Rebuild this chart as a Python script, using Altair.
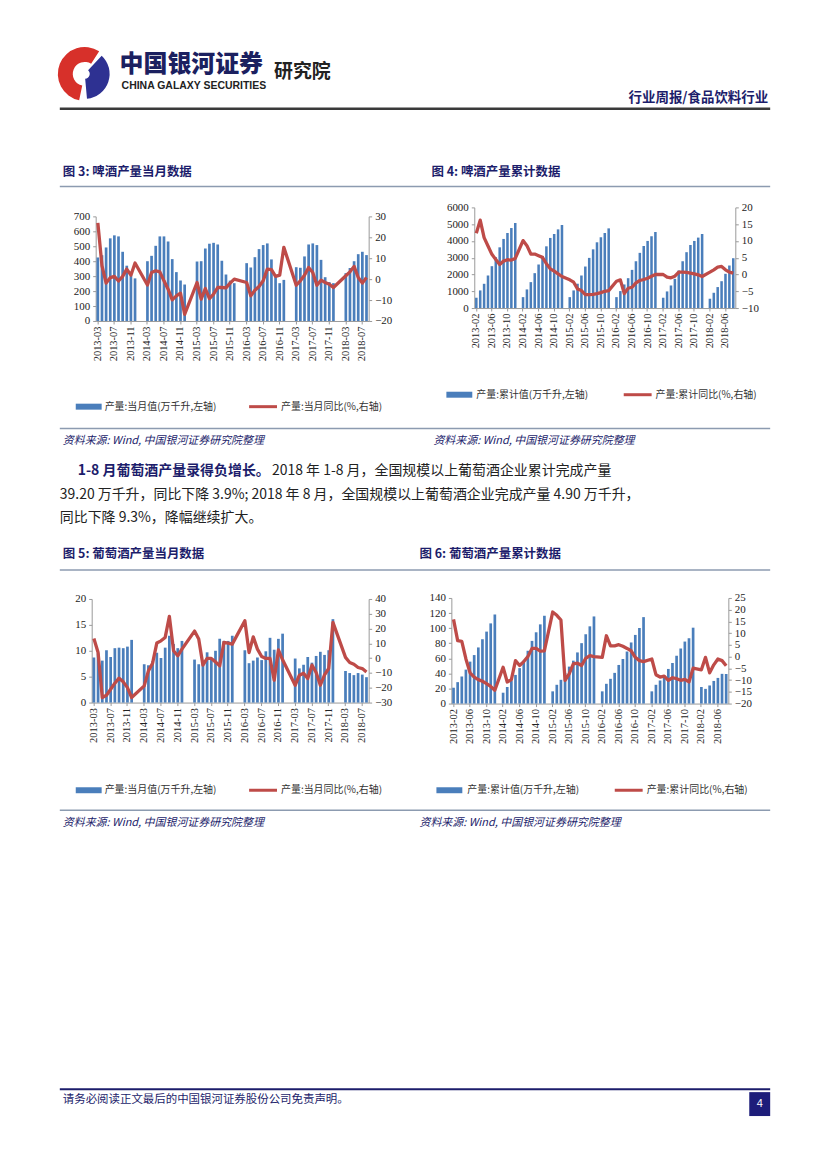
import altair as alt
import pandas as pd

# ---------------- categories ----------------
def month_range(y0, m0, y1, m1):
    out = []
    y, m = y0, m0
    while (y, m) <= (y1, m1):
        out.append(f"{y}-{m:02d}")
        m += 1
        if m > 12:
            m = 1
            y += 1
    return out

months_monthly = month_range(2013, 3, 2018, 8)   # 图3 / 图5
months_cum = month_range(2013, 2, 2018, 8)       # 图4 / 图6
N = None

# ---------------- 图3 啤酒产量当月 ----------------
beer_month_val = [425, 440, 492, 553, 573, 566, 463, 370, 305, 285,
                  N, N, 400, 436, 503, 566, 566, 532, 414, 327, 271, 244,
                  N, N, 398, 400, 485, 517, 523, 512, 403, 311, 270, 253,
                  N, N, 387, 358, 427, 481, 508, 519, 412, 300, 253, 275,
                  N, N, 360, 356, 432, 512, 519, 508, 409, 293, 260, 253,
                  N, N, 320, 355, 400, 447, 463, 441]
beer_month_yoy = [26.9, 6.4, -1.9, 0.7, 1.3, -0.9, 1.3, 4.8, 1.9, 7.7,
                  N, N, -2.8, 3.2, 4.0, 3.5, -0.8, -4.8, -9.9, -8.0, -6.7, -16.8,
                  N, N, -1.6, -9.6, -4.5, -9.3, -7.2, -4.0, -4.0, -4.2, -1.9, 0.0,
                  N, N, -1.6, -8.0, -5.3, -3.5, -0.8, 4.8, 4.5, 1.3, 1.9, 15.2,
                  N, N, -2.9, -0.8, 1.9, 5.6, 3.2, -2.9, -0.5, -1.6, -2.4, -4.0,
                  N, N, 1.6, 3.5, 6.1, 0.8, -1.9, 0.8]

# ---------------- 图4 啤酒产量累计 ----------------
beer_cum_val = [614, 1050, 1445, 1940, 2495, 3030, 3620, 4120, 4475, 4770, 5070,
                N, 650, 1110, 1545, 2080, 2590, 3100, 3680, 4180, 4415, 4690, 4950,
                N, 650, 1050, 1450, 1940, 2475, 2990, 3500, 3920, 4220, 4475, 4750,
                N, 650, 1010, 1405, 1780, 2275, 2790, 3290, 3700, 4000, 4280, 4535,
                N, 614, 990, 1345, 1740, 2240, 2790, 3330, 3760, 4000, 4200, 4415,
                N, 555, 910, 1250, 1600, 2040, 2535, 2970]
beer_cum_yoy = [12.3, 16.2, 11.0, 8.5, 6.0, 4.5, 3.0, 4.0, 4.4, 4.3, 4.8,
                N, 10.1, 8.6, 6.1, 6.1, 5.6, 5.1, 3.2, 1.7, 1.0, 0.2, -0.6,
                N, -1.6, -2.3, -4.3, -4.8, -6.0, -6.0, -5.9, -5.7, -5.4, -5.0, -4.8,
                N, -2.0, -1.6, -5.7, -4.1, -3.8, -2.5, -1.8, -1.5, -1.1, -0.5, 0.0,
                N, 0.0, -0.8, -1.0, -0.5, 0.7, 0.7, 0.6, 0.4, 0.2, -0.1, -0.6,
                N, 0.7, 1.4, 2.2, 2.4, 1.4, 0.7, 0.4]

# ---------------- 图5 葡萄酒产量当月 ----------------
wine_month_val = [8.7, 9.5, 8.1, 10.1, 8.8, 10.5, 10.6, 10.5, 10.8, 12.1,
                  N, N, 7.4, 7.2, 8.0, 9.6, 8.6, 10.6, 12.9, 11.3, 10.5, 11.9,
                  N, N, 8.3, 7.4, 8.0, 9.7, 8.5, 10.0, 12.3, 11.9, 11.9, 12.9,
                  N, N, 10.1, 7.6, 8.1, 8.7, 8.2, 9.9, 12.5, 10.2, 12.3, 13.3,
                  N, N, 8.5, 6.6, 7.3, 8.8, 7.7, 9.0, 9.8, 9.2, 10.1, 16.1,
                  N, N, 6.1, 5.7, 5.3, 5.7, 5.4, 4.9]
wine_month_yoy = [13.3, 3.8, -26.6, -25.1, -21.0, -16.9, -13.5, -16.0, -19.9, -26.6,
                  N, N, -18.7, -8.6, -3.4, 10.2, 11.7, 14.0, 28.2, 5.0, 1.6, 6.1,
                  N, N, 18.3, 12.9, -4.7, -0.2, -0.2, -2.5, -5.2, 10.6, 10.2, 9.5,
                  N, N, 25.3, 3.8, 14.4, 6.1, 1.1, -0.2, -0.2, -14.9, 5.6, -1.1,
                  N, N, -18.3, -11.5, -10.2, -13.8, -4.7, -9.7, -18.3, -11.3, -7.0, 24.2,
                  N, N, 0.5, -2.9, -4.1, -6.3, -7.0, -9.3]

# ---------------- 图6 葡萄酒产量累计 ----------------
wine_cum_val = [21.0, 28.4, 35.9, 45.0, 55.6, 64.3, 74.4, 85.3, 95.4, 106.3, 118.1,
                N, 14.4, 22.0, 30.0, 38.0, 47.0, 57.0, 70.0, 83.1, 94.5, 105.0, 116.4,
                N, 16.2, 24.9, 31.5, 40.7, 49.0, 56.9, 67.8, 80.1, 91.9, 102.4, 115.5,
                N, 16.2, 26.2, 32.8, 40.7, 51.2, 59.1, 69.0, 81.0, 91.0, 100.2, 114.6,
                N, 16.2, 24.9, 30.6, 37.0, 45.9, 53.8, 63.4, 73.0, 82.2, 86.6, 100.6,
                N, 22.0, 19.5, 24.0, 30.0, 34.0, 39.4, 39.2]
wine_cum_yoy = [15.9, 6.8, 6.5, -1.0, -6.9, -8.7, -9.8, -10.5, -11.5, -12.7, -14.3,
                N, -4.5, -10.8, -9.8, -1.7, -3.8, -2.1, 0.0, 3.5, 3.5, 2.3, 2.5,
                N, 19.0, 17.6, 15.6, -10.1, -7.3, -3.1, -2.8, -3.8, -0.7, 0.4, 0.0,
                N, -0.3, 8.9, 4.6, 4.6, 5.1, 4.4, 3.5, 2.5, -0.3, -1.7, -2.1,
                N, -1.0, -7.7, -8.7, -8.3, -10.1, -9.0, -9.4, -10.1, -9.7, -10.8, -4.9,
                N, -5.6, -0.3, -6.9, -3.5, -1.0, -1.7, -3.9]

# ---------------- texts ----------------
legend_month = ["产量:当月值(万千升,左轴)", "产量:当月同比(%,右轴)"]
legend_cum = ["产量:累计值(万千升,左轴)", "产量:累计同比(%,右轴)"]
source_text = "资料来源: Wind, 中国银河证券研究院整理"
fig_titles = ["图 3: 啤酒产量当月数据", "图 4: 啤酒产量累计数据",
              "图 5: 葡萄酒产量当月数据", "图 6: 葡萄酒产量累计数据"]
para_bold = "1-8 月葡萄酒产量录得负增长。"
para_l1 = "2018 年 1-8 月，全国规模以上葡萄酒企业累计完成产量"
para_l2 = "39.20 万千升，同比下降 3.9%; 2018 年 8 月，全国规模以上葡萄酒企业完成产量 4.90 万千升，"
para_l3 = "同比下降 9.3%，降幅继续扩大。"

# ---------------- styling ----------------
CJK = "Noto Sans CJK SC"
SERIF = "Liberation Serif"
BLUE = "#4A7EBB"
RED = "#BE4B48"
NAVY = "#1C1D6B"
LINEC = "#8C9BB0"
W = 811
ONE = alt.InlineData(values=[{"k": 0}])


def T(s, x, y, top, size=12, color="#222222", weight="normal", font=CJK,
      align="left", style="normal", baseline="middle"):
    return alt.Chart(ONE).mark_text(
        text=s, fontSize=size, color=color, fontWeight=weight, font=font,
        align=align, baseline=baseline, fontStyle=style
    ).encode(x=alt.value(x - 8), y=alt.value(y - top))


def R(x1, x2, y, top, color=LINEC, width=1.5):
    return alt.Chart(ONE).mark_rule(color=color, strokeWidth=width).encode(
        x=alt.value(x1 - 8), x2=alt.value(x2 - 8), y=alt.value(y - top))


def BOX(x1, x2, y1, y2, top, color):
    return alt.Chart(ONE).mark_rect(color=color).encode(
        x=alt.value(x1 - 8), x2=alt.value(x2 - 8),
        y=alt.value(y1 - top), y2=alt.value(y2 - top))


def ARC(cx, cy, top, r, r2, t1, t2, color):
    return alt.Chart(ONE).mark_arc(
        radius=r, radius2=r2, theta=t1, theta2=t2, color=color
    ).encode(x=alt.value(cx - 8), y=alt.value(cy - top))


def SP(w, h):
    return alt.Chart(ONE).mark_point(opacity=0).encode(
        x=alt.value(0), y=alt.value(0)).properties(width=w, height=h)


def legend_items(y, top, xs, labels):
    bx1, bx2, tx1, rx1, rx2, tx2 = xs
    return [
        BOX(bx1, bx2, y - 3, y + 3, top, BLUE),
        T(labels[0], tx1, y, top, size=10, color="#333333"),
        R(rx1, rx2, y, top, color=RED, width=3),
        T(labels[1], tx2, y, top, size=10, color="#333333"),
    ]


def dual(cats, vals, yoy, ldom, lstep, rdom, rstep, w, H, row_top, plot_top, plot_bot):
    """Bars on the left axis, YoY line on the right axis. The view spans the whole
    row height H; the plot occupies page rows plot_top..plot_bot."""
    ybot = plot_bot - row_top
    ytop = plot_top - row_top
    df = pd.DataFrame({"m": cats, "v": vals, "r": yoy})
    xenc = alt.X("m:N", sort=cats,
                 scale=alt.Scale(type="band", domain=cats, paddingInner=0.35, paddingOuter=0.2),
                 axis=alt.Axis(values=cats[0::4], labelAngle=-90, title=None, offset=ybot - H,
                               labelFont=SERIF, labelFontSize=10.5, labelColor="#222222",
                               domainColor="#9A9A9A", tickColor="#9A9A9A", tickSize=3,
                               labelPadding=2))
    axis_common = dict(title=None, grid=False, labelFont=SERIF, labelFontSize=11,
                       labelColor="#222222", domainColor="#9A9A9A", format="d",
                       tickColor="#9A9A9A", tickSize=3, labelPadding=3)
    bars = alt.Chart(df).transform_filter("isValid(datum.v)").mark_bar(color=BLUE).encode(
        x=xenc,
        y=alt.Y("v:Q", scale=alt.Scale(domain=ldom, nice=False, range=[ybot, ytop]),
                axis=alt.Axis(values=list(range(ldom[0], ldom[1] + 1, lstep)),
                              orient="left", **axis_common)))
    line = alt.Chart(df).transform_filter("isValid(datum.r)").mark_line(
        color=RED, strokeWidth=3.3, strokeJoin="round").encode(
        x=xenc,
        y=alt.Y("r:Q", scale=alt.Scale(domain=rdom, nice=False, zero=False, range=[ybot, ytop]),
                axis=alt.Axis(values=list(range(rdom[0], rdom[1] + 1, rstep)),
                              orient="right", **axis_common)))
    return alt.layer(bars, line).resolve_scale(y="independent").properties(width=w, height=H)


# ---------------- header section (page y 8 -> 196) ----------------
TOP_H = 8
header = alt.layer(
    ARC(82, 72, TOP_H, 27, 12, 3.35, 6.85, "#D7302A"),
    ARC(82, 72, TOP_H, 25, 5, 0.75, 3.05, "#2E3192"),
    T("中国银河证券", 117, 63, TOP_H, size=24, color="#1B2060", weight=900),
    T("研究院", 272, 70, TOP_H, size=19, color="#222222", weight="bold"),
    T("CHINA GALAXY SECURITIES", 119, 84, TOP_H, size=10.5, color="#222222", weight="bold",
      font="Liberation Sans"),
    T("行业周报/食品饮料行业", 768, 96, TOP_H, size=13.5, color=NAVY, weight="bold", align="right"),
    R(57, 770, 107, TOP_H, color="#3A3A3A", width=2.5),
    T(fig_titles[0], 60, 170, TOP_H, size=12.5, color=NAVY, weight="bold"),
    T(fig_titles[1], 430, 170, TOP_H, size=12.5, color=NAVY, weight="bold"),
    R(57, 770, 185, TOP_H, color=LINEC, width=1.5),
).properties(width=W, height=188)

# ---------------- chart row 1 (page y 196 -> 380) ----------------
ROW1, H1 = 196, 184
c3 = dual(months_monthly, beer_month_val, beer_month_yoy, [0, 700], 100, [-20, 30], 10,
          274, H1, ROW1, 212, 317)
c4 = dual(months_cum, beer_cum_val, beer_cum_yoy, [0, 6000], 1000, [-10, 20], 5,
          262, H1, ROW1, 203, 304)
row1 = alt.hconcat(SP(85, H1), c3, SP(106, H1), c4, spacing=0, bounds="flush")

# ---------------- middle section (page y 380 -> 578) ----------------
TOP_M = 380
mid_items = []
mid_items += legend_items(403, TOP_M, (73, 99, 102, 247, 275, 279), legend_month)
mid_items += legend_items(391, TOP_M, (445, 471, 475, 623, 651, 655), legend_cum)
mid_items += [
    R(57, 770, 425, TOP_M),
    T(source_text, 60, 437, TOP_M, size=11, color=NAVY, style="italic"),
    T(source_text, 432, 437, TOP_M, size=11, color=NAVY, style="italic"),
    T(para_bold, 75, 468, TOP_M, size=14, color=NAVY, weight="bold"),
    T(para_l1, 270, 468, TOP_M, size=14, color="#222222"),
    T(para_l2, 57, 492, TOP_M, size=14, color="#222222"),
    T(para_l3, 57, 515, TOP_M, size=14, color="#222222"),
    T(fig_titles[2], 60, 551, TOP_M, size=12.5, color=NAVY, weight="bold"),
    T(fig_titles[3], 418, 551, TOP_M, size=12.5, color=NAVY, weight="bold"),
    R(57, 770, 567, TOP_M),
]
mid = alt.layer(*mid_items).properties(width=W, height=198)

# ---------------- chart row 2 (page y 578 -> 760) ----------------
ROW2, H2 = 578, 182
c5 = dual(months_monthly, wine_month_val, wine_month_yoy, [0, 20], 5, [-30, 40], 10,
          278, H2, ROW2, 593, 697)
c6 = dual(months_cum, wine_cum_val, wine_cum_yoy, [0, 140], 20, [-20, 25], 5,
          278, H2, ROW2, 592, 698)
row2 = alt.hconcat(SP(81, H2), c5, SP(83, H2), c6, spacing=0, bounds="flush")

# ---------------- footer section (page y 760 -> 1161) ----------------
TOP_F = 760
foot_items = []
foot_items += legend_items(785, TOP_F, (73, 99, 102, 247, 275, 279), legend_month)
foot_items += legend_items(785, TOP_F, (435, 461, 466, 614, 642, 646), legend_cum)
foot_items += [
    R(57, 770, 805, TOP_F),
    T(source_text, 60, 818, TOP_F, size=11, color=NAVY, style="italic"),
    T(source_text, 418, 818, TOP_F, size=11, color=NAVY, style="italic"),
    R(57, 770, 1085, TOP_F, color=NAVY, width=2),
    T("请务必阅读正文最后的中国银河证券股份公司免责声明。", 60, 1096, TOP_F, size=11.5, color=NAVY),
    BOX(749, 770, 1088, 1112, TOP_F, "#1D1D7A"),
    T("4", 759.5, 1100, TOP_F, size=11, color="#FFFFFF", font="Liberation Sans", align="center"),
]
footer = alt.layer(*foot_items).properties(width=W, height=401)

page = alt.vconcat(header, row1, mid, row2, footer, spacing=0).properties(
    padding=0, background="#FFFFFF"
).configure_view(strokeWidth=0).configure_concat(spacing=0)

page.save("out.html", embed_options={"renderer": "svg", "actions": False})
